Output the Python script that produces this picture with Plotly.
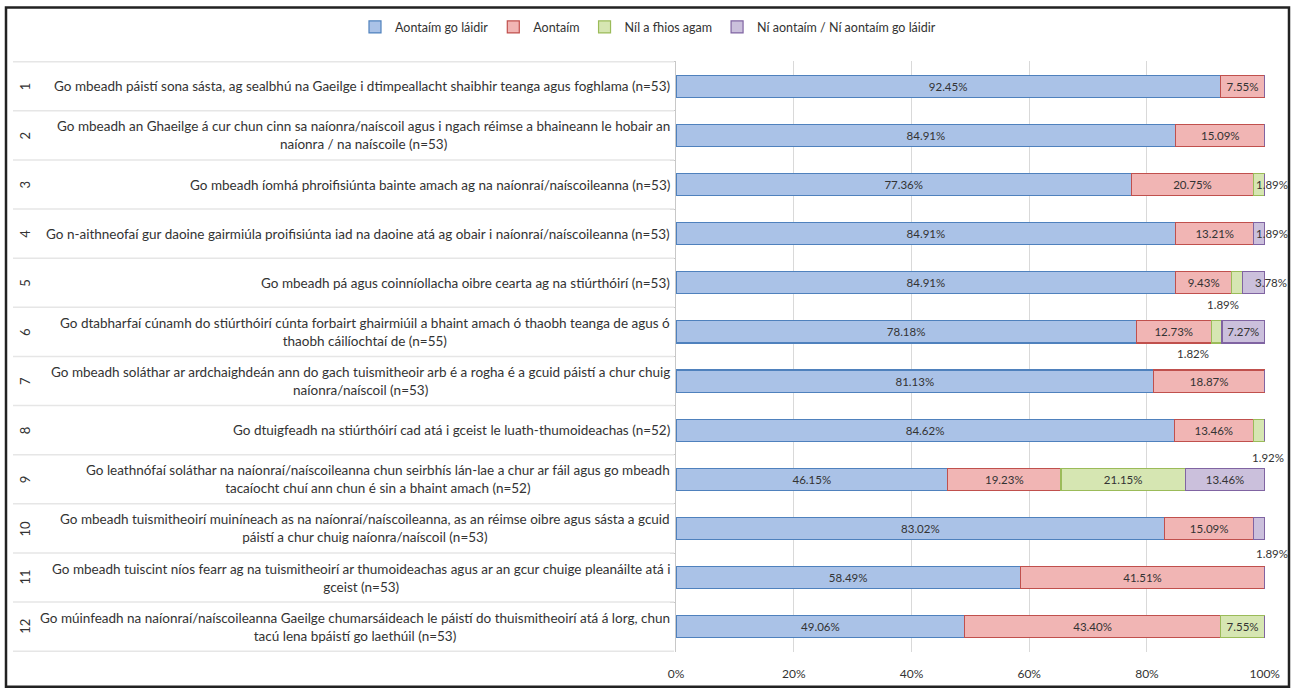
import plotly.graph_objects as go

# ---- data -------------------------------------------------------------
statements = [
    "Go mbeadh páistí sona sásta, ag sealbhú na Gaeilge i dtimpeallacht shaibhir teanga agus foghlama (n=53)",
    "Go mbeadh an Ghaeilge á cur chun cinn sa naíonra/naíscoil agus i ngach réimse a bhaineann le hobair an<br>naíonra / na naíscoile (n=53)",
    "Go mbeadh íomhá phroifisiúnta bainte amach ag na naíonraí/naíscoileanna (n=53)",
    "Go n-aithneofaí gur daoine gairmiúla proifisiúnta iad na daoine atá ag obair i naíonraí/naíscoileanna (n=53)",
    "Go mbeadh pá agus coinníollacha oibre cearta ag na stiúrthóirí (n=53)",
    "Go dtabharfaí cúnamh do stiúrthóirí cúnta forbairt ghairmiúil a bhaint amach ó thaobh teanga de agus ó<br>thaobh cáilíochtaí de (n=55)",
    "Go mbeadh soláthar ar ardchaighdeán ann do gach tuismitheoir arb é a rogha é a gcuid páistí a chur chuig<br>naíonra/naíscoil (n=53)",
    "Go dtuigfeadh na stiúrthóirí cad atá i gceist le luath-thumoideachas (n=52)",
    "Go leathnófaí soláthar na naíonraí/naíscoileanna chun seirbhís lán-lae a chur ar fáil agus go mbeadh<br>tacaíocht chuí ann chun é sin a bhaint amach (n=52)",
    "Go mbeadh tuismitheoirí muiníneach as na naíonraí/naíscoileanna, as an réimse oibre agus sásta a gcuid<br>páistí a chur chuig naíonra/naíscoil (n=53)",
    "Go mbeadh tuiscint níos fearr ag na tuismitheoirí ar thumoideachas agus ar an gcur chuige pleanáilte atá i<br>gceist (n=53)",
    "Go múinfeadh na naíonraí/naíscoileanna Gaeilge chumarsáideach le páistí do thuismitheoirí atá á lorg, chun<br>tacú lena bpáistí go laethúil (n=53)",
]
row_numbers = [str(i) for i in range(1, 13)]

series_names = [
    "Aontaím go láidir",
    "Aontaím",
    "Níl a fhios agam",
    "Ní aontaím / Ní aontaím go láidir",
]
strongly_agree = [92.45, 84.91, 77.36, 84.91, 84.91, 78.18, 81.13, 84.62, 46.15, 83.02, 58.49, 49.06]
agree = [7.55, 15.09, 20.75, 13.21, 9.43, 12.73, 18.87, 13.46, 19.23, 15.09, 41.51, 43.40]
dont_know = [0, 0, 1.89, 0, 1.89, 1.82, 0, 1.92, 21.15, 0, 0, 7.55]
disagree = [0, 0, 0, 1.89, 3.78, 7.27, 0, 0, 13.46, 1.89, 0, 0]

x_ticks = [0, 20, 40, 60, 80, 100]
x_tick_text = ["0%", "20%", "40%", "60%", "80%", "100%"]

# ---- styling ----------------------------------------------------------
W, H = 1297, 693
ML, MR, MT, MB = 676, 32, 59, 37
PW, PH = W - ML - MR, H - MT - MB

FONT = "Lato, sans-serif"
TEXT_COL = "#333333"

fills = ["#aac2e7", "#f1b5b4", "#d6e6b2", "#cbc0dc"]
edges = ["#4f81bd", "#c0504d", "#9bbb59", "#8064a2"]

# label nudges (pixels) for segments too narrow to hold their value
small_label_shift = {
    (2, 2): (13, 0),
    (3, 3): (13, 0),
    (2, 4): (-14, -22),
    (3, 4): (17, 0),
    (2, 5): (-24, -22),
    (2, 7): (9, -27),
    (3, 9): (13, -25),
}
INSIDE_MIN = 5.0


def px_x(px):
    return (px - ML) / PW


def px_y(py):
    return (H - MB - py) / PH


series_values = [strongly_agree, agree, dont_know, disagree]

fig = go.Figure()
for s, (name, vals) in enumerate(zip(series_names, series_values)):
    labels = [f"{v:.2f}%" if v >= INSIDE_MIN else "" for v in vals]
    fig.add_trace(go.Bar(
        name=name,
        y=statements,
        x=vals,
        orientation="h",
        marker=dict(color=fills[s], line=dict(color=edges[s], width=1.2)),
        text=labels,
        textposition="inside",
        insidetextanchor="middle",
        constraintext="none",
        textangle=0,
        textfont=dict(family=FONT, size=11.5, color=TEXT_COL),
        cliponaxis=False,
    ))

annotations = []

# values of the narrow segments, placed beside their segment
for (s, r), (dx, dy) in small_label_shift.items():
    start = sum(series_values[k][r] for k in range(s))
    v = series_values[s][r]
    annotations.append(dict(
        x=start + v / 2, y=r, xref="x", yref="y",
        text=f"{v:.2f}%", showarrow=False,
        xshift=dx, yshift=dy,
        font=dict(family=FONT, size=11.5, color=TEXT_COL),
    ))

# statement labels (wrapped lines centred) and rotated row numbers
for i, (num, txt) in enumerate(zip(row_numbers, statements)):
    annotations.append(dict(
        x=px_x(672), y=i, xref="paper", yref="y",
        text=txt, showarrow=False, xanchor="right", align="center",
        font=dict(family=FONT, size=13.5, color=TEXT_COL),
    ))
    annotations.append(dict(
        x=px_x(15), y=i, xref="paper", yref="y",
        text=num, showarrow=False, textangle=-90,
        font=dict(family=FONT, size=13, color=TEXT_COL),
    ))

shapes = []
# separators between rows in the label area
for i in range(len(statements) + 1):
    shapes.append(dict(
        type="line", xref="paper", yref="y",
        x0=px_x(13), x1=px_x(674), y0=i - 0.5, y1=i - 0.5,
        line=dict(color="#e6e6e6", width=1.5),
    ))
# outer frame
shapes.append(dict(
    type="rect", xref="paper", yref="paper",
    x0=px_x(6), x1=px_x(1289), y0=px_y(691), y1=px_y(5),
    line=dict(color="#222222", width=2.5), fillcolor="rgba(0,0,0,0)",
    layer="below",
))

fig.update_layout(
    width=W, height=H,
    margin=dict(l=ML, r=MR, t=MT, b=MB),
    barmode="stack",
    bargap=0.55,
    paper_bgcolor="white",
    plot_bgcolor="white",
    font=dict(family=FONT, size=12, color=TEXT_COL),
    showlegend=True,
    legend=dict(
        orientation="h",
        x=px_x(648), xanchor="center",
        y=px_y(25), yanchor="middle",
        font=dict(family=FONT, size=12.5, color=TEXT_COL),
        itemwidth=30,
        traceorder="normal",
    ),
    annotations=annotations,
    shapes=shapes,
    xaxis=dict(
        range=[0, 100.05],
        tickvals=x_ticks,
        ticktext=x_tick_text,
        showgrid=True,
        gridcolor="#d9d9d9",
        gridwidth=1,
        zeroline=False,
        showline=False,
        ticks="",
        ticklabelstandoff=13,
        tickfont=dict(family=FONT, size=12, color=TEXT_COL),
        fixedrange=True,
    ),
    yaxis=dict(
        type="category",
        categoryorder="array",
        categoryarray=statements,
        autorange="reversed",
        showticklabels=False,
        showgrid=False,
        showline=True,
        linecolor="#c8c8c8",
        linewidth=1,
        ticks="outside",
        tickson="boundaries",
        ticklen=5,
        tickcolor="#c8c8c8",
        fixedrange=True,
    ),
)

fig.write_html("out.html")
